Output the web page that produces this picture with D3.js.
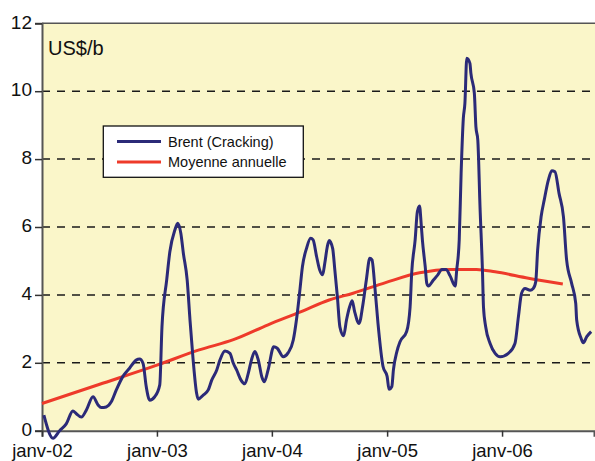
<!DOCTYPE html>
<html><head><meta charset="utf-8">
<script src="https://cdn.jsdelivr.net/npm/d3@7"></script>
<style>
html,body{margin:0;padding:0;background:#fff;}
svg{display:block;font-family:"Liberation Sans",Arial,Helvetica,sans-serif;}
</style></head>
<body><svg id="chart" width="595" height="461"></svg>
<script>
// ---- data ----
const brentDates = ["2002-01-07","2002-02-05","2002-02-26","2002-03-19","2002-04-09","2002-04-20","2002-05-06","2002-05-22","2002-06-12","2002-06-28","2002-07-08","2002-07-24","2002-08-09","2002-08-25","2002-09-15","2002-10-06","2002-10-27","2002-11-07","2002-11-18","2002-11-28","2002-12-09","2002-12-25","2003-01-10","2003-01-17","2003-02-01","2003-02-11","2003-02-27","2003-03-08","2003-03-18","2003-03-26","2003-04-07","2003-04-16","2003-04-26","2003-05-07","2003-05-12","2003-05-28","2003-06-13","2003-06-24","2003-07-10","2003-07-20","2003-08-05","2003-08-21","2003-08-31","2003-09-11","2003-09-25","2003-10-07","2003-10-18","2003-10-28","2003-11-08","2003-11-19","2003-11-30","2003-12-08","2003-12-20","2004-01-07","2004-01-18","2004-02-06","2004-02-22","2004-03-09","2004-03-19","2004-03-30","2004-04-07","2004-04-20","2004-05-03","2004-05-11","2004-05-22","2004-06-01","2004-06-10","2004-06-17","2004-06-25","2004-07-01","2004-07-12","2004-07-19","2004-07-27","2004-08-04","2004-08-16","2004-08-25","2004-09-04","2004-09-12","2004-09-20","2004-10-04","2004-10-15","2004-10-27","2004-11-07","2004-11-14","2004-11-23","2004-12-03","2004-12-19","2005-01-01","2005-01-07","2005-01-16","2005-01-21","2005-02-01","2005-02-11","2005-03-04","2005-03-15","2005-03-20","2005-03-31","2005-04-07","2005-04-14","2005-04-19","2005-04-23","2005-05-02","2005-05-07","2005-05-12","2005-05-28","2005-06-11","2005-06-24","2005-07-07","2005-07-20","2005-08-05","2005-08-10","2005-08-18","2005-08-24","2005-08-31","2005-09-05","2005-09-11","2005-09-21","2005-09-24","2005-10-05","2005-10-10","2005-10-16","2005-10-23","2005-10-31","2005-11-03","2005-11-10","2005-11-24","2005-12-10","2005-12-26","2006-01-21","2006-02-11","2006-02-22","2006-03-04","2006-03-15","2006-03-31","2006-04-10","2006-04-18","2006-04-24","2006-05-05","2006-05-15","2006-05-28","2006-06-08","2006-06-18","2006-07-01","2006-07-15","2006-07-25","2006-08-10","2006-08-23","2006-08-26","2006-09-09","2006-09-16","2006-09-27","2006-10-11"];
const brentValues = [0.46,-0.22,0.0,0.2,0.58,0.5,0.4,0.61,1.0,0.76,0.68,0.7,0.85,1.2,1.6,1.84,2.08,2.11,1.98,1.3,0.9,1.0,1.35,3.06,4.44,5.27,5.91,6.11,5.81,5.22,4.44,3.26,2.08,1.1,0.93,1.05,1.2,1.49,1.79,2.08,2.35,2.28,2.0,1.79,1.49,1.38,1.69,2.08,2.33,2.08,1.59,1.44,1.79,2.47,2.43,2.18,2.3,2.67,3.26,4.14,4.83,5.37,5.67,5.62,5.13,4.73,4.59,4.93,5.42,5.6,5.37,4.73,3.95,3.06,2.8,3.26,3.65,3.83,3.5,3.16,3.65,4.44,5.08,5.03,4.24,3.16,1.89,1.6,1.22,1.3,1.79,2.33,2.62,2.92,3.65,4.64,5.62,6.45,6.62,6.11,5.62,4.83,4.34,4.26,4.44,4.59,4.75,4.75,4.56,4.26,4.73,5.62,7.58,9.2,9.64,10.97,10.82,10.53,9.94,8.95,8.56,6.6,4.64,3.65,3.06,2.57,2.28,2.18,2.28,2.57,3.36,4.05,4.19,4.14,4.19,4.39,5.32,6.3,6.8,7.38,7.66,7.63,6.99,6.3,5.03,4.34,3.75,3.26,2.72,2.59,2.77,2.92];
const avgDates = ["2002-01-01","2002-07-01","2003-01-01","2003-05-15","2003-09-01","2003-12-20","2004-04-01","2004-07-01","2004-09-15","2004-12-27","2005-04-14","2005-07-20","2005-10-12","2005-12-10","2006-03-26","2006-07-13"];
const avgValues = [0.80,1.36,1.93,2.38,2.68,3.12,3.50,3.85,4.05,4.36,4.65,4.75,4.75,4.68,4.49,4.32];
const xTickDates = ["2002-01-01","2003-01-01","2004-01-01","2005-01-01","2006-01-01"];
const xTickLabels = ["janv-02","janv-03","janv-04","janv-05","janv-06"];
const yTicks = [0,2,4,6,8,10,12];
const seriesNames = ["Brent (Cracking)","Moyenne annuelle"];
const unitLabel = "US$/b";

// ---- chart ----
const parse = d3.timeParse("%Y-%m-%d");
const svg = d3.select("#chart");
const L = 42, R = 594, T = 23.3, B = 430.7;
const x = d3.scaleTime().domain([parse("2002-01-01"), parse("2006-10-20")]).range([L, R]);
const y = d3.scaleLinear().domain([0, 12]).range([B, T]);

svg.append("rect").attr("x", L).attr("y", T).attr("width", 595 - L).attr("height", B - T).attr("fill", "#faf6c9");

// grid
svg.append("g").selectAll("line").data(yTicks.filter(v => v > 0 && v < 12)).join("line")
  .attr("x1", L).attr("x2", 595).attr("y1", d => y(d)).attr("y2", d => y(d))
  .attr("stroke", "#1a1a1a").attr("stroke-width", 1.5).attr("stroke-dasharray", "8,7");

// top border
svg.append("line").attr("x1", L).attr("x2", 595).attr("y1", T).attr("y2", T).attr("stroke", "#555").attr("stroke-width", 1.5);

// axes
const yAxis = d3.axisLeft(y).tickValues(yTicks).tickSize(7).tickPadding(3).tickFormat(d3.format("d"));
const gy = svg.append("g").attr("transform", `translate(${L},0)`).call(yAxis);
gy.select(".domain").attr("stroke", "#555").attr("stroke-width", 2);
gy.selectAll(".tick line").attr("stroke", "#333").attr("stroke-width", 1.5);
gy.selectAll(".tick text").attr("font-size", 19).attr("dy", "0.25em").attr("fill", "#111").attr("font-family", "Liberation Sans, Arial, sans-serif");

const xAxis = d3.axisBottom(x).tickValues(xTickDates.map(parse)).tickSize(6).tickPadding(7)
  .tickFormat((d, i) => xTickLabels[i]);
const gx = svg.append("g").attr("transform", `translate(0,${B})`).call(xAxis);
gx.select(".domain").attr("stroke", "#555").attr("stroke-width", 2);
gx.selectAll(".tick line").attr("stroke", "#333").attr("stroke-width", 1.5);
gx.selectAll(".tick text").attr("font-size", 18.5).attr("fill", "#111").attr("font-family", "Liberation Sans, Arial, sans-serif");

// unit label
svg.append("text").attr("x", 48).attr("y", 55).attr("font-size", 20).attr("fill", "#111").text(unitLabel);

// lines
const brent = brentDates.map((d, i) => ({ date: parse(d), v: brentValues[i] }));
const avg = avgDates.map((d, i) => ({ date: parse(d), v: avgValues[i] }));
const line = d3.line().x(d => x(d.date)).y(d => y(d.v)).curve(d3.curveMonotoneX);
svg.append("path").datum(avg).attr("d", line).attr("fill", "none").attr("stroke", "#ee3a2a").attr("stroke-width", 3);
svg.append("path").datum(brent).attr("d", line).attr("fill", "none").attr("stroke", "#2b2a78").attr("stroke-width", 3).attr("stroke-linejoin", "round");

// legend
const lg = svg.append("g");
lg.append("rect").attr("x", 103.3).attr("y", 126).attr("width", 200).attr("height", 51.3)
  .attr("fill", "#fff").attr("stroke", "#111").attr("stroke-width", 1.3);
const colors = ["#2b2a78", "#ee3a2a"];
seriesNames.forEach((name, i) => {
  const yy = 141.5 + i * 20.5;
  lg.append("line").attr("x1", 117).attr("x2", 161).attr("y1", yy).attr("y2", yy).attr("stroke", colors[i]).attr("stroke-width", 3);
  lg.append("text").attr("x", 168).attr("y", yy + 5).attr("font-size", 14.5).attr("fill", "#111").text(name);
});
</script></body></html>
